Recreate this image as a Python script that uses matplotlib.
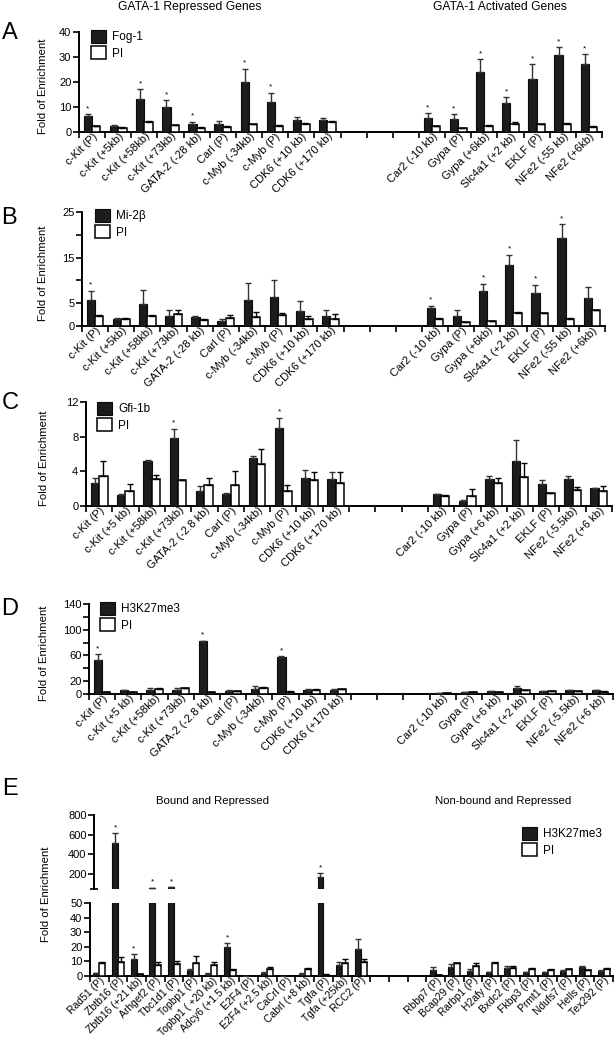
import matplotlib
matplotlib.use('Agg')
import matplotlib.pyplot as plt
import matplotlib.transforms as mtransforms
import numpy as np

plt.rcParams['font.family'] = ['Liberation Sans', 'DejaVu Sans']

# ---------------- data ----------------
rep_AB = ["c-Kit (P)", "c-Kit (+5kb)", "c-Kit (+58kb)", "c-Kit (+73kb)", "GATA-2 (-28 kb)",
          "Carl (P)", "c-Myb (-34kb)", "c-Myb (P)", "CDK6 (+10 kb)", "CDK6 (+170 kb)"]
act_AB = ["Car2 (-10 kb)", "Gypa (P)", "Gypa (+6kb)", "Slc4a1 (+2 kb)", "EKLF (P)",
          "NFe2 (-55 kb)", "NFe2 (+6kb)"]
rep_CD = ["c-Kit (P)", "c-Kit (+5 kb)", "c-Kit (+58kb)", "c-Kit (+73kb)", "GATA-2 (-2.8 kb)",
          "Carl (P)", "c-Myb (-34kb)", "c-Myb (P)", "CDK6 (+10 kb)", "CDK6 (+170 kb)"]
act_CD = ["Car2 (-10 kb)", "Gypa (P)", "Gypa (+6 kb)", "Slc4a1 (+2 kb)", "EKLF (P)",
          "NFe2 (-5.5kb)", "NFe2 (+6 kb)"]

# Panel A: Fog-1
fog1 = [6.3, 2.5, 13.3, 9.9, 3.3, 3.3, 19.9, 12.1, 4.9, 4.7, 5.6, 5.2, 24.0, 11.6, 21.3, 30.8, 27.0]
fog1_err = [0.9, 0.3, 3.7, 2.8, 0.8, 1.2, 5.4, 3.6, 1.0, 0.9, 1.9, 2.0, 5.0, 2.4, 5.7, 3.2, 4.0]
pi_A = [2.3, 1.7, 4.0, 2.7, 1.6, 2.0, 3.1, 2.3, 3.3, 4.0, 2.3, 1.5, 2.5, 3.3, 3.0, 3.2, 2.1]
pi_A_err = [0.2, 0.2, 0.2, 0.2, 0.2, 0.3, 0.2, 0.3, 0.3, 0.3, 0.2, 0.1, 0.2, 0.5, 0.2, 0.2, 0.2]
star_A = [1, 0, 1, 1, 1, 0, 1, 1, 0, 0, 1, 1, 1, 1, 1, 1, 1]

# Panel B: Mi-2beta
mi2b = [5.8, 1.6, 4.8, 2.3, 2.0, 1.2, 5.8, 6.4, 3.3, 2.3, 4.0, 2.3, 7.7, 13.3, 7.2, 19.3, 6.1]
mi2b_err = [1.9, 0.1, 3.0, 1.1, 0.1, 0.3, 3.6, 3.6, 2.1, 1.1, 0.4, 1.3, 1.6, 2.3, 1.9, 3.0, 2.45]
pi_B = [2.3, 1.6, 2.3, 2.6, 1.4, 1.75, 2.0, 2.4, 1.6, 1.5, 1.6, 0.8, 1.0, 2.85, 2.85, 1.6, 3.4]
pi_B_err = [0.1, 0.1, 0.1, 0.8, 0.1, 0.75, 1.1, 0.45, 0.5, 1.1, 0.1, 0.1, 0.1, 0.2, 0.1, 0.1, 0.2]
star_B = [1, 0, 0, 0, 0, 0, 0, 0, 0, 0, 1, 0, 1, 1, 1, 1, 0]

# Panel C: Gfi-1b
gfi1b = [2.7, 1.3, 5.2, 7.85, 1.7, 1.4, 5.5, 9.05, 3.2, 3.1, 1.35, 0.6, 3.15, 5.25, 2.5, 3.1, 2.05]
gfi1b_err = [0.5, 0.1, 0.1, 1.05, 0.6, 0.15, 0.3, 1.15, 1.0, 0.8, 0.05, 0.05, 0.35, 2.35, 0.45, 0.4, 0.05]
pi_C = [3.5, 1.75, 3.1, 3.0, 2.4, 2.4, 4.85, 1.75, 3.0, 2.6, 1.2, 1.1, 2.7, 3.35, 1.5, 1.9, 1.75]
pi_C_err = [1.7, 0.75, 0.5, 0.05, 0.8, 1.6, 1.75, 0.7, 0.95, 1.3, 0.05, 0.9, 0.5, 1.65, 0.05, 0.35, 0.55]
star_C = [0, 0, 0, 1, 0, 0, 0, 1, 0, 0, 0, 0, 0, 0, 0, 0, 0]

# Panel D: H3K27me3
h3_D = [53, 5.6, 6.7, 6.7, 82, 5.1, 7.7, 57.4, 5.6, 6.7, 2.0, 2.5, 4.1, 9.0, 4.6, 6.1, 5.6]
h3_D_err = [8.5, 0.5, 2.0, 3.3, 0.5, 0.5, 4.1, 1.6, 2.6, 0.5, 0.3, 0.3, 0.5, 3.0, 0.5, 0.5, 0.5]
pi_D = [3.0, 2.5, 7.7, 8.7, 3.0, 4.6, 9.2, 3.6, 6.2, 7.2, 2.0, 3.5, 2.6, 6.0, 5.1, 4.6, 3.6]
pi_D_err = [0.3, 0.3, 1.0, 1.0, 0.3, 0.5, 1.0, 0.3, 1.0, 0.5, 0.3, 0.3, 0.3, 1.0, 0.3, 0.3, 0.3]
star_D = [1, 0, 0, 0, 1, 0, 0, 1, 0, 0, 0, 0, 0, 0, 0, 0, 0]

# Panel E
bound_E = ["Rad51 (P)", "Zbtb16 (P)", "Zbtb16 (+21 kb)", "Arhgef2 (P)", "Tbc1d1 (P)", "Topbp1 (P)",
           "Topbp1 ( +20 kb)", "Adcy6 (+1.5 kb)", "E2F4 (P)", "E2F4 (+2.5 kb)", "CaCrl (P)",
           "Cabrl (+8 kb)", "Tgfa (P)", "Tgfa (+25kb)", "RCC2 (P)"]
nonbound_E = ["Rbbp7 (P)", "Bcap29 (P)", "Rarbp1 (P)", "H2afy (P)", "Bxdc2 (P)", "Fkbp3 (P)",
              "Prmt1 (P)", "Ndufs7 (P)", "Hells (P)", "Tex292 (P)"]
h3_E = [1.8, 521, 11.7, 60, 66, 4.1, 1.6, 20.2, 0, 2.1, 0, 1.6, 170, 7.3, 18.3,
        4.1, 6.4, 3.7, 2.75, 5.3, 2.5, 2.5, 3.7, 6.4, 3.7]
h3_E_err = [0.2, 94, 3.2, 2, 2, 0.5, 0.2, 2.3, 0, 0.3, 0, 0.2, 41, 2.6, 7.2,
            2.3, 1.9, 0.8, 0.3, 1.8, 0.3, 0.3, 0.3, 0.3, 0.3]
pi_E = [9.2, 9.9, 1.1, 7.6, 8.3, 8.7, 7.8, 3.9, 0, 5.0, 0, 4.6, 1.0, 8.7, 9.9,
        0.5, 8.9, 6.9, 8.7, 5.7, 4.8, 3.9, 4.8, 3.9, 4.8]
pi_E_err = [0.5, 3.4, 0.1, 2.3, 2.3, 5.3, 1.8, 0.9, 0, 1.0, 0, 0.9, 0.1, 2.8, 2.0,
            0.1, 0.3, 1.8, 0.7, 1.1, 0.9, 0.7, 0.3, 0.3, 0.5]
star_E = [0, 1, 1, 1, 1, 0, 0, 1, 0, 0, 0, 0, 1, 0, 0,
          0, 0, 0, 0, 0, 0, 0, 0, 0, 0]

# ---------------- figure ----------------
W, H = 616, 1048
fig = plt.figure(figsize=(W / 100, H / 100), dpi=100)

BLACK = '#1c1c1c'


def px_axes(x0, y0, x1, y1):
    return fig.add_axes([x0 / W, 1 - y1 / H, (x1 - x0) / W, (y1 - y0) / H])


def style(ax, nslots, centers, labels, show_bottom=True, xfs=8):
    ax.set_xlim(0, nslots)
    for s in ['top', 'right']:
        ax.spines[s].set_visible(False)
    ax.spines['left'].set_linewidth(1.4)
    ax.spines['bottom'].set_linewidth(1.4)
    ax.tick_params(axis='y', which='major', length=4, width=1.2, labelsize=8, pad=1.5)
    ax.tick_params(axis='y', which='minor', length=4, width=1.2)
    if show_bottom:
        ax.set_xticks(np.arange(nslots + 1))
        ax.set_xticklabels([])
        ax.set_xticks(centers, labels, minor=True)
        ax.tick_params(axis='x', which='major', length=4, width=1.2, direction='out')
        ax.tick_params(axis='x', which='minor', length=0, pad=2, labelsize=xfs)
        off = mtransforms.ScaledTranslation(4 / 100, 0, fig.dpi_scale_trans)
        for lab in ax.get_xticklabels(minor=True):
            lab.set_rotation(45)
            lab.set_ha('right')
            lab.set_va('center')
            lab.set_rotation_mode('anchor')
            lab.set_transform(lab.get_transform() + off)
    else:
        ax.spines['bottom'].set_visible(False)
        ax.set_xticks([])


def draw(ax, centers, a, aerr, b, berr, stars, label_a, star_ax_fn=None):
    centers = np.asarray(centers, float)
    a = np.asarray(a, float)
    b = np.asarray(b, float)
    aerr = np.asarray(aerr, float)
    berr = np.asarray(berr, float)
    w = 0.32
    ba = ax.bar(centers - 0.16, a, w, color=BLACK, edgecolor='#0a0a0a', linewidth=0.8,
                zorder=3, label=label_a)
    bb = ax.bar(centers + 0.16, b, w, color='white', edgecolor='black', linewidth=1.1,
                zorder=3, label='PI')
    ax.errorbar(centers - 0.16, a, yerr=[np.zeros_like(a), aerr], fmt='none', ecolor='#333333',
                elinewidth=1, capsize=2.2, capthick=1, zorder=4)
    ax.errorbar(centers + 0.16, b, yerr=[np.zeros_like(b), berr], fmt='none', ecolor='black',
                elinewidth=1, capsize=2.2, capthick=1, zorder=4)
    for i, s in enumerate(stars):
        if s:
            tgt = ax if star_ax_fn is None else star_ax_fn(a[i] + aerr[i])
            tgt.annotate('*', (centers[i] - 0.16, a[i] + aerr[i]), xytext=(0, 1.5),
                         textcoords='offset points', ha='center', va='bottom', fontsize=6,
                         annotation_clip=False)
    return ba, bb


def legend(ax, x, y):
    ax.legend(loc='upper left', bbox_to_anchor=(x / W, 1 - y / H), bbox_transform=fig.transFigure,
              frameon=False, fontsize=8.5, handlelength=1.3, handleheight=1.3, handletextpad=0.5,
              labelspacing=0.25, borderpad=0, borderaxespad=0)


centers_AD = np.r_[np.arange(10) + 0.5, np.arange(13, 20) + 0.5]
labels_AB = rep_AB + act_AB
labels_CD = rep_CD + act_CD

# Panel A
axA = px_axes(79, 32, 602, 132)
style(axA, 20, centers_AD, labels_AB)
draw(axA, centers_AD, fog1, fog1_err, pi_A, pi_A_err, star_A, 'Fog-1')
axA.set_ylim(0, 40)
axA.set_yticks([0, 10, 20, 30, 40])
legend(axA, 91, 30)

# Panel B
axB = px_axes(82, 212, 605, 326)
style(axB, 20, centers_AD, labels_AB)
draw(axB, centers_AD, mi2b, mi2b_err, pi_B, pi_B_err, star_B, 'Mi-2β')
axB.set_ylim(0, 25)
axB.set_yticks([0, 5, 15, 25])
axB.set_yticks([10, 20], minor=True)
legend(axB, 95, 209)

# Panel C
axC = px_axes(86, 402, 612, 506)
style(axC, 20, centers_AD, labels_CD)
draw(axC, centers_AD, gfi1b, gfi1b_err, pi_C, pi_C_err, star_C, 'Gfi-1b')
axC.set_ylim(0, 12)
axC.set_yticks([0, 4, 8, 12])
legend(axC, 97, 402)

# Panel D
axD = px_axes(89, 604, 613, 694)
style(axD, 20, centers_AD, labels_CD)
draw(axD, centers_AD, h3_D, h3_D_err, pi_D, pi_D_err, star_D, 'H3K27me3')
axD.set_ylim(0, 140)
axD.set_yticks([0, 20, 60, 100, 140])
axD.set_yticks([40, 80, 120], minor=True)
legend(axD, 100, 602)

# Panel E (broken axis)
centers_E = np.r_[np.arange(15) + 0.5, np.arange(18, 28) + 0.5]
labels_E = bound_E + nonbound_E
axEu = px_axes(90, 815, 613, 889)
axEl = px_axes(90, 903, 613, 976)
style(axEl, 28, centers_E, labels_E, xfs=7.5)
style(axEu, 28, centers_E, labels_E, show_bottom=False)
axEl.set_ylim(0, 50)
axEu.set_ylim(50, 800)
axEl.set_yticks([0, 10, 20, 30, 40, 50])
axEu.set_yticks([200, 400, 600, 800])
axEu.set_yticks([50], minor=True)
axEu.tick_params(axis='y', which='minor', length=6, direction='inout')
axEu.spines['left'].set_position(('outward', -3))


def pick_E(top):
    return axEu if top > 50 else axEl


draw(axEl, centers_E, h3_E, h3_E_err, pi_E, pi_E_err, star_E, 'H3K27me3', star_ax_fn=pick_E)
draw(axEu, centers_E, h3_E, h3_E_err, pi_E, pi_E_err, [0] * len(star_E), 'H3K27me3')
axEu.set_ylim(50, 800)
axEl.set_ylim(0, 50)
legend(axEl, 522, 827)

# y labels
for ax, (xr, y0, y1) in [(axA, (48, 32, 132)), (axB, (48, 212, 326)), (axC, (49, 402, 506)),
                         (axD, (49, 604, 694))]:
    fig.text(xr / W, 1 - ((y0 + y1) / 2 + 4) / H, 'Fold of Enrichment', rotation=90,
             ha='right', va='center', fontsize=8.2)
fig.text(51 / W, 1 - 894 / H, 'Fold of Enrichment', rotation=90, ha='right', va='center',
         fontsize=8.2)

# titles
fig.text(190 / W, 1 - 7 / H, 'GATA-1 Repressed Genes', ha='center', va='center', fontsize=8.7)
fig.text(500 / W, 1 - 7 / H, 'GATA-1 Activated Genes', ha='center', va='center', fontsize=8.7)
fig.text(212 / W, 1 - 801 / H, 'Bound and Repressed', ha='center', va='center', fontsize=8.2)
fig.text(503 / W, 1 - 801 / H, 'Non-bound and Repressed', ha='center', va='center', fontsize=8.2)

# panel letters
for letter, x, y in [('A', 2, 33), ('B', 1, 218), ('C', 2, 403), ('D', 1, 609), ('E', 2, 789)]:
    fig.text(x / W, 1 - y / H, letter, ha='left', va='center', fontsize=17)

fig.savefig('out.png', dpi=100)
